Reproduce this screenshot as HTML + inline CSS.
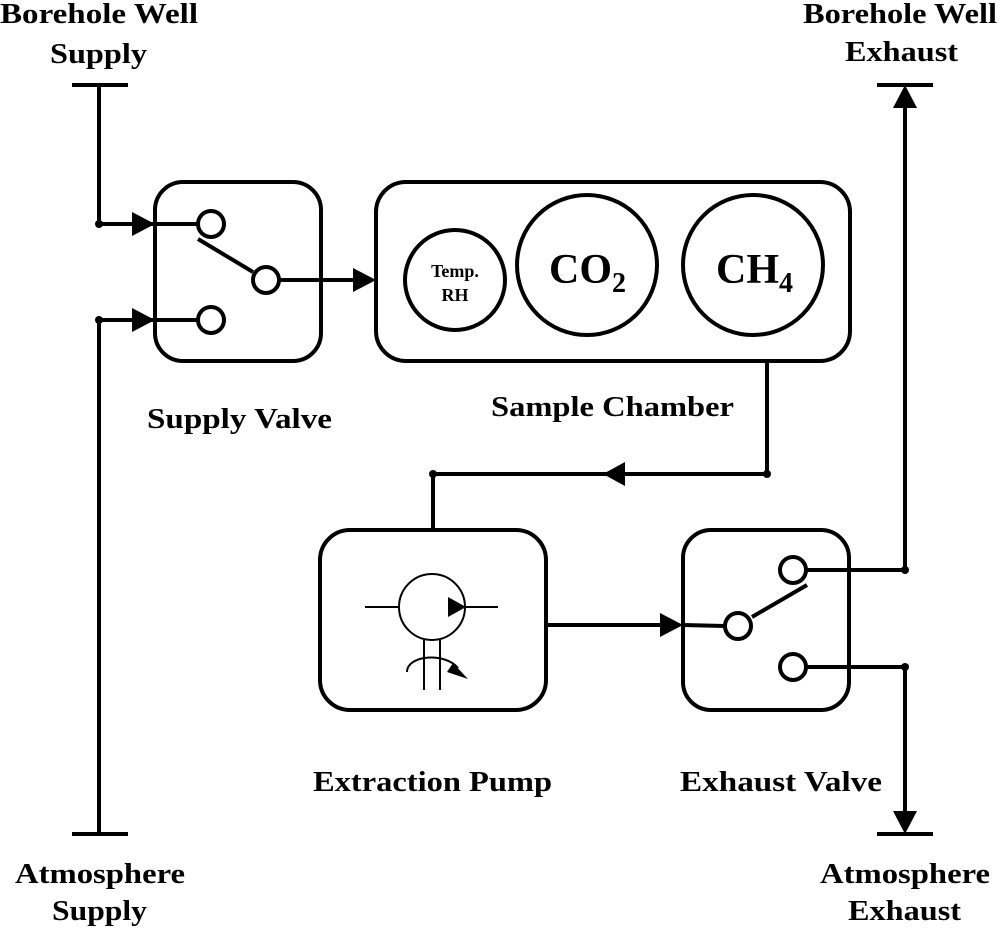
<!DOCTYPE html>
<html><head><meta charset="utf-8"><style>
html,body{margin:0;padding:0;background:#fff;}
svg{display:block;}
text{font-family:"Liberation Serif",serif;font-weight:bold;fill:#000;}
</style></head><body>
<svg width="1000" height="928" viewBox="0 0 1000 928" xmlns="http://www.w3.org/2000/svg">
<g fill="none" stroke="#000" stroke-width="4">
<rect x="155" y="182" width="166" height="179" rx="28"/>
<circle cx="211" cy="224" r="13"/>
<circle cx="266" cy="280" r="13"/>
<circle cx="211" cy="320" r="13"/>
<line x1="198" y1="239" x2="253" y2="272"/>
<rect x="376" y="182" width="474" height="179" rx="30"/>
<circle cx="455" cy="280" r="50"/>
<circle cx="587" cy="265" r="70"/>
<circle cx="753" cy="265" r="70"/>
<rect x="320" y="530" width="226" height="180" rx="30"/>
<rect x="683" y="530" width="166" height="180" rx="28"/>
<circle cx="738" cy="626" r="13"/>
<circle cx="793" cy="570" r="13"/>
<circle cx="793" cy="667" r="13"/>
<line x1="752" y1="617" x2="807" y2="585"/>
<polyline points="99,85 99,224 140,224"/>
<line x1="140" y1="224" x2="198" y2="224"/>
<polyline points="140,320 99,320 99,834"/>
<line x1="140" y1="320" x2="198" y2="320"/>
<line x1="72" y1="85" x2="128" y2="85"/>
<line x1="72" y1="834" x2="128" y2="834"/>
<line x1="279" y1="280" x2="362" y2="280"/>
<polyline points="767,361 767,474 433,474 433,530"/>
<line x1="546" y1="625" x2="670" y2="625"/>
<line x1="683" y1="625" x2="725" y2="626"/>
<polyline points="806,570 905,570 905,100"/>
<polyline points="806,667 905,667 905,820"/>
<line x1="877" y1="85" x2="933" y2="85"/>
<line x1="877" y1="834" x2="933" y2="834"/>
</g>
<g fill="#000">
<circle cx="99" cy="224" r="4"/>
<circle cx="99" cy="320" r="4"/>
<circle cx="767" cy="474" r="4"/>
<circle cx="433" cy="474" r="4"/>
<circle cx="905" cy="570" r="4"/>
<circle cx="905" cy="667" r="4"/>
<polygon points="155,224 132,212 132,236"/>
<polygon points="155,320 132,308 132,332"/>
<polygon points="376,280 353,268 353,292"/>
<polygon points="603,474 625,462 625,486"/>
<polygon points="683,625 660,613 660,637"/>
<polygon points="905,85 893,108 917,108"/>
<polygon points="905,834 893,811 917,811"/>
</g>
<g fill="none" stroke="#000" stroke-width="2">
<circle cx="432" cy="607" r="33"/>
<line x1="365" y1="607" x2="399" y2="607"/>
<line x1="465" y1="607" x2="498" y2="607"/>
<line x1="424" y1="640" x2="424" y2="690"/>
<line x1="440" y1="640" x2="440" y2="690"/>
<path d="M407,672 C407,655 445,652 458,668"/>
</g>
<polygon points="448,597 448,617 466,607" fill="#000"/>
<polygon points="453,663 468,679 447,672" fill="#000"/>
<g font-size="29" lengthAdjust="spacingAndGlyphs">
<text x="0" y="23" textLength="198" lengthAdjust="spacingAndGlyphs">Borehole Well</text>
<text x="50" y="63" textLength="97" lengthAdjust="spacingAndGlyphs">Supply</text>
<text x="803" y="23" textLength="194" lengthAdjust="spacingAndGlyphs">Borehole Well</text>
<text x="845" y="61" textLength="113" lengthAdjust="spacingAndGlyphs">Exhaust</text>
<text x="15" y="883" textLength="170" lengthAdjust="spacingAndGlyphs">Atmosphere</text>
<text x="52" y="920" textLength="95" lengthAdjust="spacingAndGlyphs">Supply</text>
<text x="820" y="883" textLength="170" lengthAdjust="spacingAndGlyphs">Atmosphere</text>
<text x="848" y="920" textLength="113" lengthAdjust="spacingAndGlyphs">Exhaust</text>
<text x="147" y="428" textLength="185" lengthAdjust="spacingAndGlyphs">Supply Valve</text>
<text x="491" y="416" textLength="243" lengthAdjust="spacingAndGlyphs">Sample Chamber</text>
<text x="313" y="791" textLength="239" lengthAdjust="spacingAndGlyphs">Extraction Pump</text>
<text x="680" y="791" textLength="202" lengthAdjust="spacingAndGlyphs">Exhaust Valve</text>
</g>
<text x="455" y="277" font-size="18" text-anchor="middle">Temp.</text>
<text x="455" y="301" font-size="18" text-anchor="middle">RH</text>
<text x="549" y="283" font-size="42">CO<tspan font-size="28" dy="9">2</tspan></text>
<text x="716" y="283" font-size="42">CH<tspan font-size="28" dy="9">4</tspan></text>
</svg>
</body></html>
